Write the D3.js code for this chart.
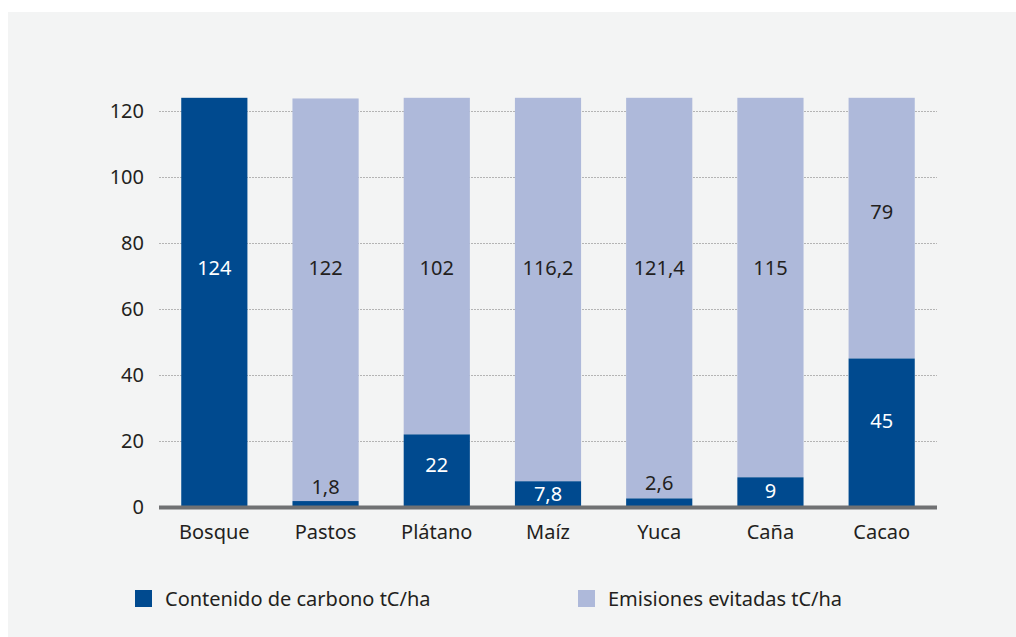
<!DOCTYPE html>
<html>
<head>
<meta charset="utf-8">
<script src="https://cdn.jsdelivr.net/npm/d3@7"></script>
<style>
  body { margin: 0; background: #fff; }
  text { font-family: "Noto Sans", "Open Sans", sans-serif; }
</style>
</head>
<body>
<div id="chart"></div>
<script>
// data
var categories = ["Bosque", "Pastos", "Plátano", "Maíz", "Yuca", "Caña", "Cacao"];
var carbono = [124, 1.8, 22, 7.8, 2.6, 9, 45];
var emisiones = [0, 122, 102, 116.2, 121.4, 115, 79];
// where each label sits (in axis units)
var carbonoLabelAt = [72.4, 6.1, 12.7, 3.9, 7.3, 4.8, 26.1];
var emisionesLabelAt = [null, 72.4, 72.4, 72.4, 72.4, 72.4, 89.4];
var yTicks = [0, 20, 40, 60, 80, 100, 120];
var seriesNames = ["Contenido de carbono tC/ha", "Emisiones evitadas tC/ha"];

var dark = "#004a8f", light = "#aeb9da", textColor = "#231f20";

var W = 1016, H = 637;
var margin = { top: 111, right: 79, bottom: 130, left: 159 },
  width = W - margin.left - margin.right,
  height = 507 - margin.top;

var root = d3.select("#chart")
  .append("svg")
  .attr("width", W)
  .attr("height", H);

// background panel
root.append("rect")
  .attr("x", 8).attr("y", 12)
  .attr("width", W - 8).attr("height", H - 12)
  .attr("fill", "#f3f4f4");

var svg = root.append("g")
  .attr("transform", "translate(" + margin.left + "," + margin.top + ")");

var x = d3.scaleBand()
  .domain(categories)
  .range([0, width])
  .paddingInner(0.405)
  .paddingOuter(0.2);

var y = d3.scaleLinear()
  .domain([0, 120])
  .range([height, 0]);

// gridlines
svg.append("g")
  .selectAll("line")
  .data(yTicks.filter(function (d) { return d > 0; }))
  .enter()
  .append("line")
  .attr("x1", 0).attr("x2", width)
  .attr("y1", function (d) { return y(d) + 0.5; })
  .attr("y2", function (d) { return y(d) + 0.5; })
  .attr("stroke", "#b4b4b4")
  .attr("stroke-width", 1)
  .attr("stroke-dasharray", "2,1");

// y axis labels
var yAxis = svg.append("g")
  .call(d3.axisLeft(y).tickValues(yTicks).tickSize(0).tickPadding(15));
yAxis.select(".domain").remove();
yAxis.selectAll("text")
  .attr("fill", textColor)
  .style("font-size", "20px")
  .style("font-family", "Noto Sans");

var rows = categories.map(function (c, i) {
  return { cat: c, carbono: carbono[i], emisiones: emisiones[i], i: i };
});

// bars: carbon at bottom, avoided emissions stacked on top
svg.selectAll(".em")
  .data(rows.filter(function (d) { return d.emisiones > 0; }))
  .enter()
  .append("rect")
  .attr("class", "em")
  .attr("x", function (d) { return x(d.cat); })
  .attr("width", x.bandwidth())
  .attr("y", function (d) { return y(d.carbono + d.emisiones); })
  .attr("height", function (d) { return y(d.carbono) - y(d.carbono + d.emisiones); })
  .attr("fill", light);

svg.selectAll(".cb")
  .data(rows)
  .enter()
  .append("rect")
  .attr("class", "cb")
  .attr("x", function (d) { return x(d.cat); })
  .attr("width", x.bandwidth())
  .attr("y", function (d) { return y(d.carbono); })
  .attr("height", function (d) { return y(0) - y(d.carbono); })
  .attr("fill", dark);

// baseline
svg.append("line")
  .attr("x1", 0).attr("x2", width)
  .attr("y1", y(0) + 0.5).attr("y2", y(0) + 0.5)
  .attr("stroke", "#707173")
  .attr("stroke-width", 4);

// x labels
var xAxis = svg.append("g")
  .attr("transform", "translate(0," + height + ")")
  .call(d3.axisBottom(x).tickSize(0).tickPadding(18));
xAxis.select(".domain").remove();
xAxis.selectAll("text")
  .attr("fill", textColor)
  .style("font-size", "20px")
  .style("font-family", "Noto Sans");

var fmt = function (v) { return String(v).replace(".", ","); };

// value labels
svg.selectAll(".cbl")
  .data(rows)
  .enter()
  .append("text")
  .attr("class", "cbl")
  .attr("x", function (d) { return x(d.cat) + x.bandwidth() / 2; })
  .attr("y", function (d) { return y(carbonoLabelAt[d.i]); })
  .attr("dy", "0.35em")
  .attr("text-anchor", "middle")
  .style("font-size", "20px")
  .attr("fill", function (d) { return carbonoLabelAt[d.i] < d.carbono ? "#fff" : textColor; })
  .text(function (d) { return fmt(d.carbono); });

svg.selectAll(".eml")
  .data(rows.filter(function (d) { return d.emisiones > 0; }))
  .enter()
  .append("text")
  .attr("class", "eml")
  .attr("x", function (d) { return x(d.cat) + x.bandwidth() / 2; })
  .attr("y", function (d) { return y(emisionesLabelAt[d.i]); })
  .attr("dy", "0.35em")
  .attr("text-anchor", "middle")
  .style("font-size", "20px")
  .attr("fill", textColor)
  .text(function (d) { return fmt(d.emisiones); });

// legend
var legend = root.append("g")
  .attr("transform", "translate(135,590)");
var legendX = [0, 443];
seriesNames.forEach(function (name, i) {
  var g = legend.append("g").attr("transform", "translate(" + legendX[i] + ",0)");
  g.append("rect")
    .attr("width", 17).attr("height", 17)
    .attr("fill", i === 0 ? dark : light);
  g.append("text")
    .attr("x", 30)
    .attr("y", 8.5)
    .attr("dy", "0.35em")
    .attr("fill", textColor)
    .style("font-size", "20px")
    .text(name);
});
</script>
</body>
</html>
